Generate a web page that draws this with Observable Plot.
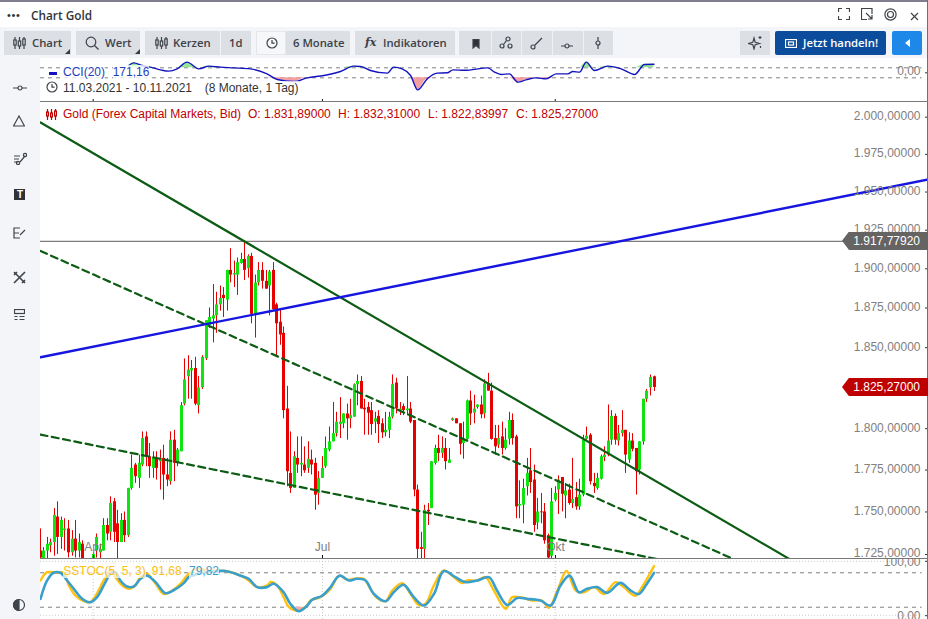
<!DOCTYPE html>
<html lang="de"><head><meta charset="utf-8">
<script src="https://cdn.jsdelivr.net/npm/d3@7"></script>
<script src="https://cdn.jsdelivr.net/npm/@observablehq/plot@0.6"></script>
<style>
html,body{margin:0;padding:0;background:#fff}
#page{position:relative;width:928px;height:619px;overflow:hidden;background:#fff;font-family:"Liberation Sans",Arial,sans-serif;font-size:12px}
#page>svg,#page>div,#page>span{position:absolute}
.btn{background:#dcdfe4;height:24px;top:31px}
.t{position:absolute;white-space:nowrap;line-height:14px}
.ui{font-family:"Open Sans",sans-serif;font-weight:600;font-size:11.3px;color:#3c4248;top:36px}
.tag{left:842px;width:86px;height:18.5px;clip-path:polygon(7px 0,100% 0,100% 100%,7px 100%,0 50%);color:#fff;text-align:right;line-height:18.5px;box-sizing:border-box;padding-right:8px}
.ic{fill:none;stroke:#3f444a;stroke-width:1.2}
</style></head><body><div id="page"></div>
<script>
// Candles: first bar is index -1 (11.03.2021), last is 173 (10.11.2021)
const firstIndex = -1;
const open = [1727,
1722,1727,1730,1732,1747,1735,1739,1740,1726,1734,
1727,1731,1721,1715,1719,1727,1726,1727,1742,1738,
1756,1743,1732,1745,1736,1764,1778,1770,1778,1795,
1783,1776,1782,1780,1782,1772,1768,1793,1779,1786,
1815,1832,1835.5,1837,1814,1825,1843,1864,1868,1870,
1877,1883,1880,1899,1896,1896,1903.5,1906,1900,1908,
1871,1891,1899,1892,1889,1899,1877,1866,1859,1812,
1773,1764,1782,1778,1778,1776,1781,1779,1761,1770,
1777,1787,1792,1797,1802.5,1803,1809,1806,1807,1827,
1829,1812.5,1813,1811,1804,1807.5,1803,1797.5,1799,1807,
1828,1811,1813.5,1811,1812,1805,1763,1729,1728,1751,
1752,1779,1788,1785,1788,1779,1805,1806,1803,1791,
1793.5,1817,1809.5,1813,1814.5,1809,1827.5,1823,1794,1790,
1795,1788,1793.5,1805,1795,1753.5,1754,1765,1774.5,1769,
1743.5,1750,1750,1736,1724,1757,1763,1770.5,1759.5,1763,
1755,1758.5,1753,1760,1793.5,1796,1767,1764,1769.5,1782.5,
1784,1793,1807.5,1792.5,1797,1799,1781,1792.5,1788,1775,
1792,1818,1825,1831.89];
const high = [1740,
1729,1735,1734,1752,1756,1747,1746,1745,1739,1745,
1737,1733,1722.5,1722,1726,1737,1731,1746,1746,1759,
1758,1751,1749,1750,1764,1784,1779,1784,1798,1798,
1791,1786,1786,1787,1790,1782,1798,1799,1788,1816,
1843,1845,1842,1844,1832,1845,1867,1875,1890,1885,
1889,1888,1899,1913,1905,1907,1910,1917,1909,1910,
1896,1904,1904,1899,1899,1904,1878,1873.5,1863,1826,
1798,1786,1795,1795,1789,1792,1787,1782,1774,1783,
1795,1801,1816,1810,1819,1809,1815,1818,1827.5,1833,
1832,1818,1816,1816,1810,1811,1806,1810,1810,1833,
1831,1816,1815,1832,1816,1805,1766,1738,1754,1755,
1780,1790,1796,1795,1794,1788,1806.5,1806,1803,1804,
1817.5,1823,1820.5,1814.5,1820,1830,1834,1828,1802,1802,
1804,1800,1810,1809,1796,1768.5,1769.5,1782,1788,1778,
1758,1761,1755,1737,1764,1765,1771.5,1770.5,1767,1766.5,
1782,1767.5,1769.5,1796,1801,1797,1773,1773,1784,1789,
1814.5,1811,1809,1802,1811,1799,1797.5,1797,1788,1792,
1818,1824,1833,1832.31];
const low = [1720,
1718,1722,1726,1724,1725,1728,1727,1723,1724,1723,
1723,1718,1712,1712,1715,1723,1722,1727,1733,1733,
1732,1722,1732,1732,1735,1763,1767,1764,1777,1777,
1770,1770,1769,1763,1757,1765,1766,1768,1777,1786,
1814,1818,1818,1814,1809,1824,1842,1862,1853,1859,
1873,1869,1873,1891,1888,1883,1903,1892.5,1894,1865,
1856,1889,1887,1887,1870,1873,1845,1851.5,1806,1765,
1761,1764,1773,1771,1773,1773,1772,1751,1754,1770,
1776,1786,1792,1795,1794,1800,1793,1800,1807,1814,
1812,1796,1796,1796,1797,1791,1794,1795,1794,1806,
1809,1808,1808,1808,1803,1759,1720,1720,1720,1742,
1752,1778,1780,1782,1775,1779,1804.5,1803,1784,1781.5,
1793,1802,1803,1812,1806,1806,1823,1793,1784,1788,
1784,1787,1790,1790,1746,1746,1743,1759.5,1761,1738,
1739.5,1743,1731,1721,1720,1756,1748.5,1750,1746,1754,
1752,1751,1751,1759,1793,1766,1761,1763,1769,1780,
1783,1790,1790,1789.5,1795,1773,1779,1786,1760,1772,
1790,1816,1820,1822.84];
const close = [1723,
1727,1731,1732,1748,1735,1745,1740,1726,1734,1727,
1732,1722,1717,1720,1725,1735,1728,1742,1737,1755,
1738,1732,1745,1736,1764,1776,1771,1779,1794,1783,
1777,1782,1776,1782,1772,1769,1793,1779,1787,1814,
1830,1836,1837,1815,1825,1844,1867,1869,1870,1877,
1881,1881,1899,1896,1897,1904,1906,1899,1908,1871,
1891,1899,1892,1887,1898,1874,1865,1858,1811,1774,
1764,1783,1778,1779,1774.5,1781.5,1778,1760,1770,1776,
1788,1792,1797,1804,1804,1809,1806,1808,1827,1829,
1812,1811.5,1809.5,1802.5,1806,1802.5,1797.5,1799,1807,1827,
1812,1812,1811,1812,1804,1763,1728,1728,1751,1750,
1780,1788,1785,1788,1780,1781,1806,1803,1790.5,1793,
1817,1809,1812,1814.5,1808.5,1827.5,1823,1793.5,1789,1794,
1788,1793,1805,1794,1753,1754.5,1764,1773,1767.5,1742,
1750,1749.5,1733,1723,1756,1761,1769,1760.5,1762.5,1755,
1757.5,1753,1760,1793,1795.5,1768,1765,1770,1783,1784,
1792.5,1807.5,1793,1797,1799,1784,1792.5,1787.5,1774,1792,
1818,1823,1831.5,1825.27];

// Axes
const priceTicks = [2000,1975,1950,1925,1900,1875,1850,1800,1775,1750,1725];
const tickIndex = [14,79,145];
const tickLabels = ["Apr","Jul","Okt"];
const supportLevel = 1917.7792;
const lastClose = 1825.27;

// Trend lines
const solidX = [-0.94,214.6],  solidP = [1996.4,1718.6];
const dashAX = [-0.94,197.5],  dashAP = [1911.5,1720.5];
const dashBX = [-0.94,178.8],  dashBP = [1796.4,1720.3];
const blueX  = [-0.94,250.8],  blueP  = [1844,1958.3];

// CCI(20)
const cciX = [24.1,25.5,27.9,30.2,33.1,35.4,37.8,40.6,44,46.8,50.1,53.9,58.6,63.3,66.2,70.9,74.7,79.4,84.1,87.9,89.8,92.6,97.4,99.2,101.6,104,106,108.7,111.5,114.4,116,119.3,125.9,127.8,129.7,132,134.4,136.7,139.6,142.4,145.3,148.6,150,151.9,153.8,156.1,159.9,163.7,167.5,170.3,173];
const cciV = [146,199,146,113,59,33,79,213,79,133,113,99,79,-21,-135,-175,-101,-54,26,133,126,46,-7,113,79,-54,-341,-121,-7,0,59,50,99,13,-34,-21,-187,-141,-101,-121,-21,-21,26,13,213,46,133,79,-34,166,171.16];

// SSTOC(5,5,3)
const fastX = [-0.94,0.95,3.8,5.7,7.1,9,11.3,13.2,14.7,17,18.9,20.3,22.2,24.1,26,27.4,29.3,31.7,34,36.4,38.8,40.6,43.5,46.3,51.5,55.8,58.1,60.5,63.3,64.3,66.2,68,69.5,71.8,74.2,75.6,78.4,81.3,83.2,84.1,86,88,90.7,92.6,94.5,96.9,98.8,101.6,104,106.3,108.2,110.6,113.4,115.8,118.6,120,122.9,125.2,127.6,131,132.8,136.1,138.5,141.3,143.2,145.6,148.2,150.8,153.1,156,158.8,162.1,164.4,167.7,169.6,173];
const fastV = [66.6,81,80,80,58,40,30.5,29,40,66.6,84,72.4,58,52,58,72.4,78,61,43,49,61,75,87,84,83,75,66.6,55,58,64,58,37.5,20,14,20,31.6,37.5,52,72.4,75,68,69.5,69.5,52,36,30.5,49,62,43,24,26,58,84,75,62,66.6,66.6,72.4,49,17,37.5,36,31.6,31.6,19,49,83,49,46,55,43,63.7,55,40,55,91.68];
const slowX = [-0.94,0.95,2.8,4.7,6.6,8.5,10.9,13.2,15.1,17,18.9,20.3,21.7,23.6,25.5,27.4,29.3,31.7,34.5,36.9,39.7,41.1,43.5,46.3,51.5,55.8,58.1,60.5,63.3,65.2,68,69.9,72.3,74.7,76.1,78.9,81.3,83.2,84.1,86.5,88.8,91.2,93.6,96.9,99.2,102,104.9,107.8,110.6,113.4,116.7,119.5,122.9,126.2,128.5,131.4,134.2,137,140.8,143.7,146.5,149.1,151.7,154,156.9,159.7,163.5,166.4,168.7,171,173];
const slowV = [34.6,66.6,80,80,66.6,52,34.6,28.7,37.5,58,78,81,66.6,56,56,69.5,75,63.7,44.5,50,62,72.4,78,81,83,75,69.5,55,55,61,46,26,13,23,33,40,55,72.4,75,66.6,69.5,66.6,43,30.5,46,59,37.5,23,43,83,72.4,63.7,66.6,72.4,49,24,36,34.6,31.6,23,58,75,46,52,55,45,62.5,49,43,61,79.82];

const stochLevels = [80,20];
const cciLevels = [100,-100];

const bars = open.map((o,k)=>({i:k+firstIndex,o,h:high[k],l:low[k],c:close[k]}));
const zip = (xs,ys)=>xs.map((x,k)=>({x,y:ys[k]}));
const de = d3.formatLocale({decimal:",",thousands:".",grouping:[3],currency:["",""]});
const price = de.format(",.5f"), two = de.format(",.2f");

const GREEN="#10e410", RED="#e60000", DARK="#0d5c14", BLUE="#1616e0", GREY="#808080";
const xOpt = {type:"linear",domain:[0,173],range:[3.3,613.5],axis:null};
const xRound = {...xOpt,round:true};
const base = {width:888,marginLeft:0,marginRight:4,marginTop:0,
  style:{position:"absolute",left:"40px",background:"transparent",fontFamily:"Liberation Sans",fontSize:"12px"}};
const page = document.getElementById("page");
const st = t=>({...base.style,top:t+"px"});
// Right-hand scale: the tick and its label are offset separately
const axisR = (vals,fmt,textDy=0,tickDy=0)=>[
  Plot.axisY(vals,{anchor:"right",tickSize:3,fill:"none",stroke:"#333",dy:tickDy,label:null}),
  Plot.axisY(vals,{anchor:"right",tickSize:0,tickPadding:-4,textAnchor:"end",tickFormat:fmt,fill:GREY,dy:textDy,label:null})
];

// Main pane
const main = Plot.plot({...base,height:457,marginBottom:3,style:st(101),
  x:xRound,
  y:{type:"log",domain:[2000,1725],range:[15.7,453],axis:null},
  marks:[
    Plot.ruleY([supportLevel],{stroke:"#5f5a5a",strokeWidth:1,x1:-0.94,x2:227}),
    Plot.ruleX(bars,{x:"i",y1:"l",y2:"h",stroke:RED,strokeWidth:1}),
    Plot.ruleX(bars.filter(d=>d.c>=d.o),{x:"i",y1:"o",y2:"c",stroke:GREEN,strokeWidth:3}),
    Plot.ruleX(bars.filter(d=>d.c<d.o),{x:"i",y1:"o",y2:"c",stroke:RED,strokeWidth:3}),
    Plot.line(zip(solidX,solidP),{x:"x",y:"y",stroke:DARK,strokeWidth:2.2}),
    Plot.line(zip(dashAX,dashAP),{x:"x",y:"y",stroke:DARK,strokeWidth:2.2,strokeDasharray:"7,4.5"}),
    Plot.line(zip(dashBX,dashBP),{x:"x",y:"y",stroke:DARK,strokeWidth:2.2,strokeDasharray:"7,4.5"}),
    Plot.line(zip(blueX,blueP),{x:"x",y:"y",stroke:BLUE,strokeWidth:2.4}),
    axisR(priceTicks,price,-1),
    Plot.axisX(tickIndex,{anchor:"bottom",tickSize:3,tickPadding:-8,lineAnchor:"bottom",tickFormat:d=>tickLabels[tickIndex.indexOf(d)],fill:GREY,stroke:"#111",label:null})
  ]});
page.append(main);

// CCI pane
const cci = zip(cciX,cciV);
const cciPlot = Plot.plot({...base,height:43,marginBottom:2,style:st(58),
  x:xOpt,
  y:{type:"linear",domain:[100,-100],range:[9.3,19.3],axis:null},
  marks:[
    Plot.ruleY(cciLevels,{stroke:GREY,strokeDasharray:"4,4",strokeWidth:1,x1:-0.94,x2:249}),
    Plot.areaY(cci,{x:"x",y1:()=>100,y2:d=>Math.max(d.y,100),fill:"#96e896",curve:"monotone-x"}),
    Plot.areaY(cci,{x:"x",y1:()=>-100,y2:d=>Math.min(d.y,-100),fill:"#f2a0a0",curve:"monotone-x"}),
    Plot.line(cci,{x:"x",y:"y",stroke:"#1414c0",strokeWidth:1.4,curve:"monotone-x"}),
    axisR([0],two,-2),
    Plot.axisX(tickIndex,{anchor:"bottom",tickSize:2,tickFormat:()=>"",stroke:"#111",label:null})
  ]});
page.append(cciPlot);

// Stochastic pane
const fast = zip(fastX,fastV), slow = zip(slowX,slowV);
const stoch = Plot.plot({...base,height:61,marginBottom:0,style:st(558),
  x:xOpt,
  y:{type:"linear",domain:[100,0],range:[2.8,60.2],axis:null},
  marks:[
    Plot.ruleX(tickIndex,{stroke:"#c9c9c9",strokeDasharray:"1,2"}),
    Plot.ruleY([100,6],{stroke:"#c9c9c9",strokeDasharray:"1,2",x1:-0.94,x2:249}),
    Plot.ruleY(stochLevels,{stroke:GREY,strokeDasharray:"4,4",strokeWidth:1,x1:-0.94,x2:249}),
    Plot.areaY(slow,{x:"x",y1:()=>20,y2:d=>Math.min(d.y,20),fill:"#f2b0b0",curve:"catmull-rom"}),
    Plot.line(fast,{x:"x",y:"y",stroke:"#ffc20e",strokeWidth:2.4,curve:"catmull-rom"}),
    Plot.line(slow,{x:"x",y:"y",stroke:"#3a9fcc",strokeWidth:2.6,curve:"catmull-rom"}),
    axisR([100],two,1),
    axisR([0],two,-3,-3)
  ]});
page.append(stoch);

// Chrome helpers
function box(css,cls){const d=document.createElement("div");d.style.cssText="position:absolute;"+css;if(cls)d.className=cls;page.append(d);return d;}
function txt(s,x,y,css,cls){const d=document.createElement("span");d.textContent=s;d.className="t "+(cls||"");d.style.left=x+"px";if(y!=null)d.style.top=y+"px";if(css)d.style.cssText+=";"+css;page.append(d);return d;}
function icon(x,y,inner,w=16,h=16){const d=document.createElement("div");d.style.cssText=`position:absolute;left:${x}px;top:${y}px;width:${w}px;height:${h}px`;
  d.innerHTML=`<svg class="ic" width="${w}" height="${h}" viewBox="0 0 ${w} ${h}">${inner}</svg>`;page.append(d);}

// Panels
const bg="#f4f5f8";
page.insertBefore(box(`left:0;top:58px;width:40px;height:561px;background:${bg}`),page.firstChild);
box(`left:0;top:27px;width:928px;height:31px;background:${bg}`);
box("left:0;top:0;width:928px;height:1.5px;background:#7f7d8e");
box("left:927px;top:0;width:1px;height:619px;background:#6c6f80");
box("left:40px;top:101px;width:888px;height:1px;background:#7a7a7a");
box("left:40px;top:558px;width:888px;height:1px;background:#777");

// Title bar
txt("•••",7,8,"font-size:11px;letter-spacing:.6px;color:#333");
txt("Chart Gold",31,8,"font-family:'Open Sans';font-weight:600;font-size:11.8px;color:#30343a");
icon(838,8,'<path d="M0.5 4V.5H4M8 .5h3.5V4M11.5 8v3.5H8M4 11.5H.5V8"/>',12,12);
icon(861,8,'<path d="M11 6V.5H.5V11.5H6M5 5l6 6M11 7v4H7"/>',12,12);
icon(884,8,'<circle cx="6.5" cy="6.5" r="5.6"/><circle cx="6.5" cy="6.5" r="3"/>',13,13);
icon(910,10,'<path d="M1 1l7 7M8 1l-7 7"/>',9,9);

// Toolbar
const candleIcon='<path d="M2 1v12M6.5 1v12M11 1v12"/><rect x=".8" y="4" width="2.4" height="5" fill="#dcdfe4"/><rect x="5.3" y="5" width="2.4" height="5" fill="#dcdfe4"/><rect x="9.8" y="3" width="2.4" height="6" fill="#dcdfe4"/>';
for(const [l,w] of [[4,67],[76,64],[145,75],[221,30],[286,64],[355,100],[459,154],[740,30]]) box(`left:${l}px;width:${w}px`,"btn");
box("left:256px;top:31px;width:30px;height:24px;background:#f6f7f9;box-sizing:border-box;border:1px solid #e4e6ea");
for(const x of [491,521,552,583]) box(`left:${x}px;top:31px;width:1px;height:24px;background:#eef0f2`);
for(const x of [65,135]) box(`left:${x}px;top:49px;width:5px;height:5px;background:#3a3f45;clip-path:polygon(100% 0,100% 100%,0 100%)`);
icon(13,36,candleIcon,13,14); txt("Chart",32,36,"","ui");
icon(85,36,'<circle cx="6" cy="6" r="4.8"/><path d="M9.5 9.5l4 4"/>',14,14); txt("Wert",105,36,"","ui");
icon(155,36,candleIcon,13,14); txt("Kerzen",173,36,"","ui");
txt("1d",229,36,"","ui");
icon(266,37,'<circle cx="6" cy="6" r="5"/><path d="M6 3v3.2h2.6"/>',12,12);
txt("6 Monate",293,36,"","ui");
txt("fx",365,36,"font-family:'DejaVu Serif';font-style:italic;font-weight:700;font-size:11px;color:#3c4248");
txt("Indikatoren",383,36,"","ui");
icon(472,38,'<path d="M1 .5h6V9L4 6.5 1 9z" fill="#2f3338"/>',8,10);
icon(499,36,'<circle cx="3" cy="10" r="2"/><circle cx="11" cy="10" r="2"/><circle cx="9" cy="3" r="2"/><path d="M4.5 8.5l3-4"/>',14,14);
icon(530,36,'<circle cx="3" cy="11" r="2"/><path d="M4.5 9.5L12 2"/>',13,14);
icon(561,39,'<circle cx="6" cy="4" r="2"/><path d="M0 4h4M8 4h4"/>',12,8);
icon(594,37,'<circle cx="4" cy="6" r="2"/><path d="M4 0v4M4 8v4"/>',8,12);
icon(748,35,'<path d="M6 3l1.2 4.3L11.5 8.5 7.2 9.7 6 14 4.8 9.7.5 8.5 4.8 7.3zM12 1v3M10.5 2.5h3M12.5 11v2"/>',14,15);
box("left:775px;top:31px;width:111px;height:24px;background:#0b4d9c;border-radius:2px");
icon(785,37,'<rect x=".5" y=".5" width="11" height="8" stroke="#fff"/><rect x="3.5" y="3" width="5" height="3" stroke="#fff"/>',12,9);
txt("Jetzt handeln!",803,36,"font-family:'Open Sans';font-weight:600;font-size:11.3px;color:#fff");
box("left:892px;top:31px;width:30px;height:24px;background:#1e88e8;border-radius:2px");
box("left:905px;top:39px;width:5px;height:8px;background:#fff;clip-path:polygon(100% 0,100% 100%,0 50%)");

// Left toolbar icons
icon(13,80,'<circle cx="7" cy="3" r="2"/><path d="M0 3h5M9 3h5"/>',14,6);
icon(13,115,'<path d="M6 1l5.5 10H.5z"/>',12,12);
icon(13,151,'<path d="M1 5h6M1 8h5M1 11h4M7 11l5-6"/><circle cx="12" cy="4" r="1.6"/><circle cx="5" cy="12" r="1.6"/>',14,14);
box("left:14px;top:189px;width:11px;height:11px;background:#2f3338");
txt("T",17,188,"color:#fff;font-weight:700;font-size:10px");
icon(13,227,'<path d="M7 1H1v10h6M1 6h5M7 8l5-5"/>',14,12);
icon(13,271,'<path d="M1 1l11 11M12 1L1 12" stroke-width="1.6"/><path d="M1 4l3-3M9 12l3-3" stroke-width="1.6"/>',13,13);
icon(14,309,'<rect x=".5" y=".5" width="10" height="4"/><path d="M.5 7.5h3M.5 10.5h3M5.5 7.5h5M5.5 10.5h5"/>',11,12);
icon(12,598,'<circle cx="7" cy="7" r="5.5"/><path d="M7 1.5a5.5 5.5 0 0 0 0 11z" fill="#3f444a"/>',14,14);

// Legends
const halo="background:rgba(255,255,255,.78);";
box("left:49px;top:72px;width:8px;height:2.5px;background:#1414c0");
txt("CCI(20)",63,65,halo+"color:#1f3ebd");
txt("171,16",112.7,65,halo+"color:#1f3ebd");
icon(46,81,'<circle cx="6" cy="6" r="5"/><path d="M6 3v3.2h2.6"/>',12,12);
txt("11.03.2021 - 10.11.2021",63,81,"color:#333;"+halo);
txt("(8 Monate, 1 Tag)",204.7,81,"color:#333;"+halo);
icon(46,108,'<path d="M1.5 1v11M5.5 1v11M9.5 1v11" stroke="#c00000"/><rect x=".6" y="4" width="1.8" height="4" fill="#fff" stroke="#c00000"/><rect x="4.6" y="5" width="1.8" height="4" fill="#fff" stroke="#c00000"/><rect x="8.6" y="3" width="1.8" height="5" fill="#fff" stroke="#c00000"/>',11,13);
const red="color:#c00000";
txt("Gold (Forex Capital Markets, Bid)",63,107,red);
txt("O: 1.831,89000",248,107,red);
txt("H: 1.832,31000",338,107,red);
txt("L: 1.822,83997",428,107,red);
txt("C: 1.825,27000",516,107,red);
txt("SSTOC(5, 5, 3)",63.3,564,"color:#fcc010;background:rgba(255,255,255,.7)");
txt("91,68",151.7,564,"color:#fcc010;background:rgba(255,255,255,.7)");
txt("79,82",189,564,"color:#3a9fcc;background:rgba(255,255,255,.7)");

// Value tags placed through the price scale
const yS = main.scale("y");
for(const [v,c] of [[supportLevel,"#666463"],[lastClose,"#bf0000"]]){
  const t=box(`top:${101+yS.apply(v)-9.25}px;background:${c}`,"tag");
  t.textContent=price(v);
}
</script></body></html>
